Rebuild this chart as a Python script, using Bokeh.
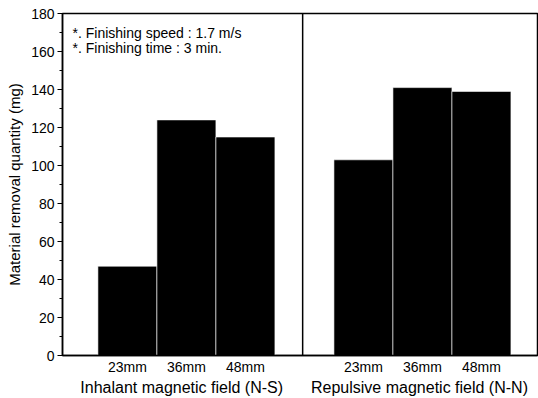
from bokeh.plotting import figure
from bokeh.models import (LinearAxis, FixedTicker, SingleIntervalTicker, Span, Label, Range1d)
from bokeh.embed import file_html
from bokeh.resources import INLINE

# ---- data ----
groups = ["Inhalant magnetic field (N-S)", "Repulsive magnetic field (N-N)"]
gaps = ["23mm", "36mm", "48mm"]
inhalant = [47, 124, 115]
repulsive = [103, 141, 139]
y_ticks = [0, 20, 40, 60, 80, 100, 120, 140, 160, 180]
notes = ["*. Finishing speed : 1.7 m/s", "*. Finishing time : 3 min."]

FONT = "Liberation Sans"

x_left = [1, 2, 3]
x_right = [5, 6, 7]

p = figure(width=538, height=398, output_backend="svg", toolbar_location=None,
           x_range=Range1d(-0.1, 7.95), y_range=Range1d(0, 180),
           min_border_left=62, min_border_right=1, min_border_top=13, min_border_bottom=41)
p.background_fill_color = "white"
p.border_fill_color = "white"
p.outline_line_color = "black"
p.outline_line_width = 1.5
p.grid.visible = False

p.vbar(x=x_left, top=inhalant, width=1.0, bottom=0, fill_color="black",
       line_color="white", line_width=0.6)
p.vbar(x=x_right, top=repulsive, width=1.0, bottom=0, fill_color="black",
       line_color="white", line_width=0.6)

# divider between the two groups
p.add_layout(Span(location=3.97, dimension="height", line_color="black", line_width=1.5))

# y axis
ya = p.yaxis[0]
ya.ticker = SingleIntervalTicker(interval=20, num_minor_ticks=2)
ya.axis_label = "Material removal quantity (mg)"
ya.axis_label_text_font = FONT
ya.axis_label_text_font_style = "normal"
ya.axis_label_text_font_size = "15px"
ya.axis_label_text_color = "black"
ya.axis_label_standoff = 5
ya.major_label_text_font = FONT
ya.major_label_text_font_size = "14px"
ya.major_label_text_color = "black"
ya.major_label_standoff = 3
ya.major_tick_out = 5
ya.major_tick_in = 0
ya.minor_tick_out = 3
ya.minor_tick_in = 0
ya.axis_line_width = 1.5
ya.axis_line_color = "black"
ya.major_tick_line_color = "black"
ya.minor_tick_line_color = "black"

# x axis: gap labels
xa = p.xaxis[0]
xa.ticker = FixedTicker(ticks=x_left + x_right)
xa.major_label_overrides = {x: g for x, g in zip(x_left + x_right, gaps + gaps)}
xa.major_tick_line_color = None
xa.minor_tick_line_color = None
xa.major_tick_out = 0
xa.major_tick_in = 0
xa.minor_tick_out = 0
xa.minor_tick_in = 0
xa.major_label_standoff = 3
xa.major_label_text_font = FONT
xa.major_label_text_font_size = "14px"
xa.major_label_text_color = "black"
xa.axis_line_width = 1.5
xa.axis_line_color = "black"

# second x axis: group labels
group_pos = [1.92, 5.95]
xa2 = LinearAxis(ticker=FixedTicker(ticks=group_pos),
                 major_label_overrides={g: n for g, n in zip(group_pos, groups)})
xa2.axis_line_color = None
xa2.major_tick_line_color = None
xa2.minor_tick_line_color = None
xa2.major_tick_out = 0
xa2.major_tick_in = 0
xa2.minor_tick_out = 0
xa2.minor_tick_in = 0
xa2.major_label_standoff = 1
xa2.major_label_text_font = FONT
xa2.major_label_text_font_size = "16px"
xa2.major_label_text_color = "black"
p.add_layout(xa2, "below")

# notes
for txt, yy in zip(notes, [169.5, 161.7]):
    p.add_layout(Label(x=0.07, y=yy, text=txt, text_font=FONT, text_font_size="14px",
                       text_color="black", text_baseline="middle", text_align="left"))

open("out.html", "w").write(file_html(p, INLINE))
